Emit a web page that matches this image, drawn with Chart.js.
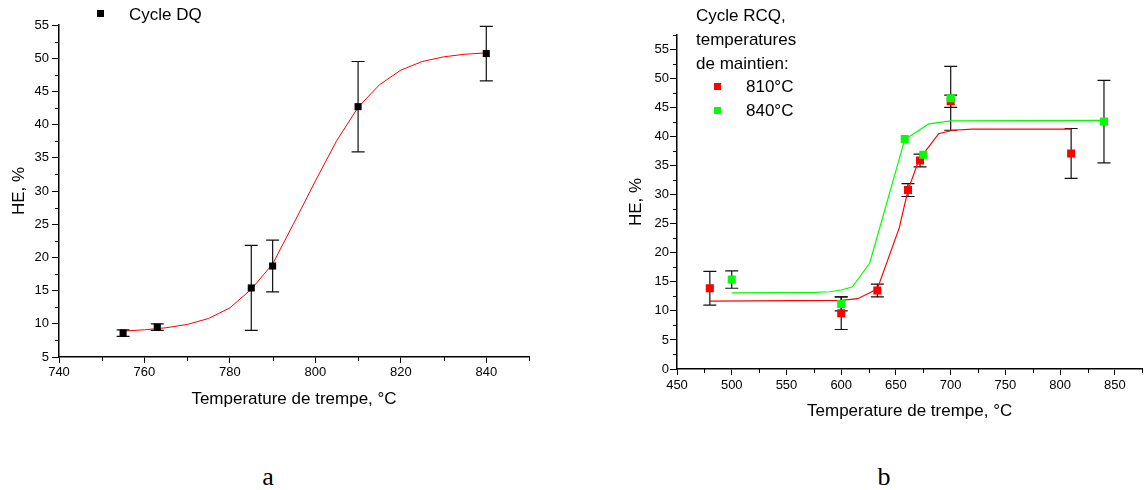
<!DOCTYPE html>
<html>
<head>
<meta charset="utf-8">
<script src="https://cdn.jsdelivr.net/npm/chart.js@4.4.1/dist/chart.umd.min.js"></script>
<style>
  body { margin: 0; background: #fff; width: 1148px; height: 490px; overflow: hidden; position: relative;
         font-family: "Liberation Sans", Arial, sans-serif; color: #000; }
  canvas { position: absolute; top: 0; }
  #chartA { left: 0; }
  #chartB { left: 600px; }
  .leg { position: absolute; font-size: 17px; line-height: 24px; white-space: nowrap; }
  .sq { position: absolute; width: 7px; height: 7px; }
  .panel { position: absolute; width: 40px; text-align: center; line-height: 30px;
           font-family: "Liberation Serif", "Times New Roman", serif; font-size: 26px; }
</style>
</head>
<body>
<canvas id="chartA" width="560" height="430"></canvas>
<canvas id="chartB" width="548" height="430"></canvas>

<!-- legends -->
<div class="sq" style="left:97px; top:10px; background:#000;"></div>
<div class="leg" style="left:129px; top:3px;">Cycle DQ</div>

<div class="leg" style="left:696px; top:4px;">Cycle RCQ,<br>temperatures<br>de maintien:</div>
<div class="sq" style="left:714px; top:83px; background:#ff0000;"></div>
<div class="leg" style="left:746px; top:75px;">810°C</div>
<div class="sq" style="left:714px; top:107px; background:#00ff00;"></div>
<div class="leg" style="left:746px; top:99px;">840°C</div>

<div class="panel" style="left:248px; top:462px;">a</div>
<div class="panel" style="left:864px; top:462px;">b</div>

<script>
// panel a : cycle DQ
var dqTemp = [755, 763, 785, 790, 810, 840];
var dqHE = [8.6, 9.5, 15.4, 18.7, 42.7, 50.7];
var dqErr = [0.5, 0.5, 6.4, 3.9, 6.8, 4.1];
var dqFitTemp = [755, 760, 765, 770, 775, 780, 785, 790, 795, 800, 805, 810, 815, 820, 825, 830, 835, 840];
var dqFitHE = [8.9, 9.1, 9.4, 9.9, 10.8, 12.4, 15.2, 19.0, 25.2, 31.5, 37.6, 42.6, 46.0, 48.2, 49.5, 50.2, 50.6, 50.8];

// panel b : cycle RCQ, 810°C and 840°C
var rcq810Temp = [480, 600, 633, 661, 672, 700, 810];
var rcq810HE = [13.9, 9.6, 13.5, 30.8, 35.9, 46.1, 37.1];
var rcq810Err = [2.9, 2.8, 1.1, 1.1, 1.1, 1.05, 4.3];
var rcq810FitTemp = [480, 600, 615, 627, 633, 653, 661, 671, 689, 702, 720, 810];
var rcq810FitHE = [11.7, 11.8, 12.1, 13.2, 13.8, 24.3, 30.8, 36.0, 40.5, 41.1, 41.3, 41.3];

var rcq840Temp = [500, 600, 658, 675, 700, 840];
var rcq840HE = [15.4, 11.2, 39.6, 36.9, 46.6, 42.6];
var rcq840Err = [1.5, 1.2, 0, 0, 5.5, 7.1];
var rcq840FitTemp = [500, 576, 590, 600, 610, 626, 658, 680, 700, 840];
var rcq840FitHE = [13.1, 13.2, 13.3, 13.6, 14.1, 18.2, 39.5, 42.2, 42.7, 42.8];

function pts(xs, ys) {
    return xs.map(function (x, i) { return { x: x, y: ys[i] }; });
}

Chart.defaults.font.family = '"Liberation Sans", Arial, sans-serif';
Chart.defaults.color = '#000';

// vertical error bars with caps
var errorBars = {
    id: 'errorBars',
    beforeDatasetsDraw: function (chart) {
        var ctx = chart.ctx, xs = chart.scales.x, ys = chart.scales.y;
        ctx.save();
        ctx.strokeStyle = '#111';
        ctx.lineWidth = 1.2;
        chart.data.datasets.forEach(function (ds) {
            if (!ds.errors) return;
            ds.data.forEach(function (p, i) {
                var e = ds.errors[i];
                if (!e) return;
                var px = xs.getPixelForValue(p.x);
                var top = ys.getPixelForValue(p.y + e);
                var bot = ys.getPixelForValue(p.y - e);
                ctx.beginPath();
                ctx.moveTo(px, top); ctx.lineTo(px, bot);
                ctx.moveTo(px - 6.5, top); ctx.lineTo(px + 6.5, top);
                ctx.moveTo(px - 6.5, bot); ctx.lineTo(px + 6.5, bot);
                ctx.stroke();
            });
        });
        ctx.restore();
    }
};

// short ticks between the labelled ones
var minorTicks = {
    id: 'minorTicks',
    afterDraw: function (chart, args, opts) {
        var ctx = chart.ctx, area = chart.chartArea;
        ctx.save();
        ctx.strokeStyle = '#000';
        ctx.lineWidth = 1;
        ['x', 'y'].forEach(function (k) {
            var sc = chart.scales[k];
            var step = opts[k];
            var n = Math.round((sc.max - sc.min) / step);
            var major = sc.ticks.map(function (t) { return t.value; });
            for (var i = 0; i <= n; i++) {
                var v = sc.min + i * step;
                if (major.some(function (m) { return Math.abs(m - v) < 1e-6; })) continue;
                var p = Math.round(sc.getPixelForValue(v)) + 0.5;
                ctx.beginPath();
                if (k === 'x') { ctx.moveTo(p, area.bottom); ctx.lineTo(p, area.bottom + 4); }
                else { ctx.moveTo(area.left, p); ctx.lineTo(area.left - 4, p); }
                ctx.stroke();
            }
        });
        ctx.restore();
    }
};

function axisOpts(o) {
    return {
        type: 'linear',
        min: o.min, max: o.max,
        afterFit: o.fit,
        ticks: { stepSize: o.step, includeBounds: false, autoSkip: false, maxRotation: 0,
                 color: '#000', font: { size: 13 }, padding: o.tickPad },
        grid: { drawOnChartArea: false, drawTicks: true, tickLength: o.tickLen, tickColor: '#000', tickWidth: 1 },
        border: { color: '#000', width: 1.5 },
        title: { display: true, text: o.title, color: '#000', font: { size: 17 }, padding: o.titlePad }
    };
}

var ctxA = document.getElementById('chartA').getContext('2d');
new Chart(ctxA, {
    type: 'scatter',
    data: {
        datasets: [{
            label: 'Cycle DQ',
            data: pts(dqTemp, dqHE),
            errors: dqErr,
            pointStyle: 'rect', pointRadius: 5, pointHoverRadius: 5,
            backgroundColor: '#000', borderColor: '#000', borderWidth: 0,
            order: 1
        }, {
            label: 'fit',
            data: pts(dqFitTemp, dqFitHE),
            showLine: true, pointRadius: 0, borderColor: '#ff0000', borderWidth: 1, tension: 0,
            order: 2
        }]
    },
    options: {
        responsive: false, animation: false, devicePixelRatio: 1,
        layout: { padding: { top: 25, right: 31, left: 0, bottom: 0 } },
        plugins: { legend: { display: false }, tooltip: { enabled: false }, minorTicks: { x: 10, y: 2.5 } },
        scales: {
            x: axisOpts({ min: 740, max: 850, step: 20, tickPad: 2, tickLen: 6,
                          title: 'Temperature de trempe, °C', titlePad: { top: 0, bottom: 20 },
                          fit: function (s) { s.height = 73; } }),
            y: axisOpts({ min: 5, max: 55, step: 5, tickPad: 3, tickLen: 7,
                          title: 'HE, %', titlePad: { top: 9, bottom: 0 },
                          fit: function (s) { s.width = 59; } })
        }
    },
    plugins: [errorBars, minorTicks]
});

var ctxB = document.getElementById('chartB').getContext('2d');
new Chart(ctxB, {
    type: 'scatter',
    data: {
        datasets: [{
            label: '840°C',
            data: pts(rcq840Temp, rcq840HE),
            errors: rcq840Err,
            pointStyle: 'rect', pointRadius: 5.7, pointHoverRadius: 5.7,
            backgroundColor: '#00ff00', borderColor: '#00ff00', borderWidth: 0,
            order: 1
        }, {
            label: '810°C',
            data: pts(rcq810Temp, rcq810HE),
            errors: rcq810Err,
            pointStyle: 'rect', pointRadius: 5.7, pointHoverRadius: 5.7,
            backgroundColor: '#ff0000', borderColor: '#ff0000', borderWidth: 0,
            order: 2
        }, {
            label: 'fit 840',
            data: pts(rcq840FitTemp, rcq840FitHE),
            showLine: true, pointRadius: 0, borderColor: '#00ff00', borderWidth: 1.2, tension: 0,
            order: 3
        }, {
            label: 'fit 810',
            data: pts(rcq810FitTemp, rcq810FitHE),
            showLine: true, pointRadius: 0, borderColor: '#ff0000', borderWidth: 1.2, tension: 0,
            order: 4
        }]
    },
    options: {
        responsive: false, animation: false, devicePixelRatio: 1,
        layout: { padding: { top: 35, right: 0, left: 0, bottom: 0 } },
        plugins: { legend: { display: false }, tooltip: { enabled: false }, minorTicks: { x: 25, y: 2.5 } },
        scales: {
            x: axisOpts({ min: 450, max: 875, step: 50, tickPad: 3, tickLen: 6,
                          title: 'Temperature de trempe, °C', titlePad: { top: 0, bottom: 8 },
                          fit: function (s) { s.height = 61; } }),
            y: axisOpts({ min: 0, max: 57.5, step: 5, tickPad: 1, tickLen: 7,
                          title: 'HE, %', titlePad: { top: 26, bottom: 0 },
                          fit: function (s) { s.width = 77; } })
        }
    },
    plugins: [errorBars, minorTicks]
});
</script>
</body>
</html>
